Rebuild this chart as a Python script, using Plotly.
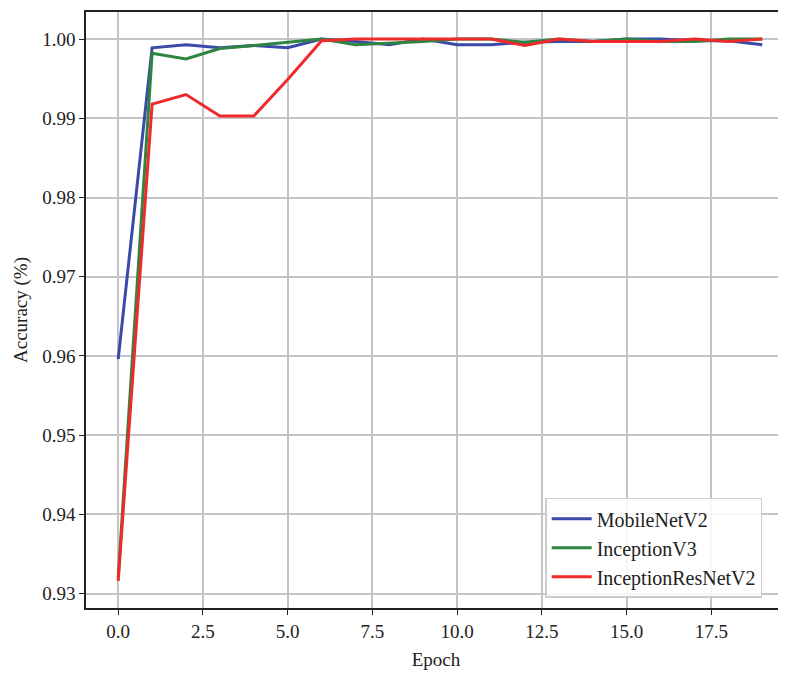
import plotly.graph_objects as go

epochs = list(range(20))
mobilenet_v2 = [0.9596, 0.9989, 0.9993, 0.9989, 0.9992, 0.9989, 1.0000, 0.9997, 0.9993, 1.0000,
                0.9993, 0.9993, 0.9996, 0.9997, 0.9997, 1.0000, 1.0000, 0.9998, 0.9998, 0.9993]
inception_v3 = [0.9320, 0.9982, 0.9975, 0.9988, 0.9992, 0.9996, 1.0000, 0.9993, 0.9995, 0.9997,
                1.0000, 1.0000, 0.9996, 1.0000, 0.9997, 1.0000, 0.9997, 0.9997, 1.0000, 1.0000]
inception_resnet_v2 = [0.9316, 0.9918, 0.9930, 0.9903, 0.9903, 0.9949, 0.9998, 1.0000, 1.0000, 1.0000,
                       1.0000, 1.0000, 0.9992, 1.0000, 0.9997, 0.9997, 0.9997, 1.0000, 0.9997, 1.0000]

series = [
    ("MobileNetV2", mobilenet_v2, "#3a4aa8"),
    ("InceptionV3", inception_v3, "#2e8540"),
    ("InceptionResNetV2", inception_resnet_v2, "#ee2a2a"),
]

x_ticks = [0, 2.5, 5, 7.5, 10, 12.5, 15, 17.5]
x_tick_text = ["0.0", "2.5", "5.0", "7.5", "10.0", "12.5", "15.0", "17.5"]
y_ticks = [0.93, 0.94, 0.95, 0.96, 0.97, 0.98, 0.99, 1.00]
y_tick_text = ["0.93", "0.94", "0.95", "0.96", "0.97", "0.98", "0.99", "1.00"]

fig = go.Figure()
for name, vals, color in series:
    fig.add_trace(go.Scatter(x=epochs, y=vals, mode="lines", name=name,
                             line=dict(color=color, width=3)))

font_family = "Liberation Serif, Times New Roman, serif"
fig.update_layout(
    width=778, height=665,
    margin=dict(l=78, r=0, t=4, b=65),
    paper_bgcolor="white", plot_bgcolor="white",
    font=dict(family=font_family, size=19, color="#222"),
    showlegend=True,
    legend=dict(x=0.656, y=0.017, xanchor="left", yanchor="bottom",
                bgcolor="rgba(255,255,255,0.85)", bordercolor="#cccccc", borderwidth=1.5,
                font=dict(family=font_family, size=20, color="#222"),
                itemwidth=40, tracegroupgap=2),
)
fig.update_xaxes(
    range=[-0.95, 19.7], tickvals=x_ticks, ticktext=x_tick_text,
    showgrid=True, gridcolor="#c4c4c8", gridwidth=1.6,
    showline=True, linecolor="#222", linewidth=1.6, mirror=True,
    ticks="outside", ticklen=5, tickwidth=1.3, tickcolor="#222",
    zeroline=False,
    title=dict(text="Epoch", font=dict(size=19), standoff=12),
)
fig.update_yaxes(
    range=[0.92818, 1.00342], tickvals=y_ticks, ticktext=y_tick_text,
    showgrid=True, gridcolor="#c4c4c8", gridwidth=1.6,
    showline=True, linecolor="#222", linewidth=1.6, mirror=False,
    ticks="outside", ticklen=5, tickwidth=1.3, tickcolor="#222",
    zeroline=False,
    title=dict(text="Accuracy (%)", font=dict(size=19), standoff=10),
)

fig.write_html("out.html")
